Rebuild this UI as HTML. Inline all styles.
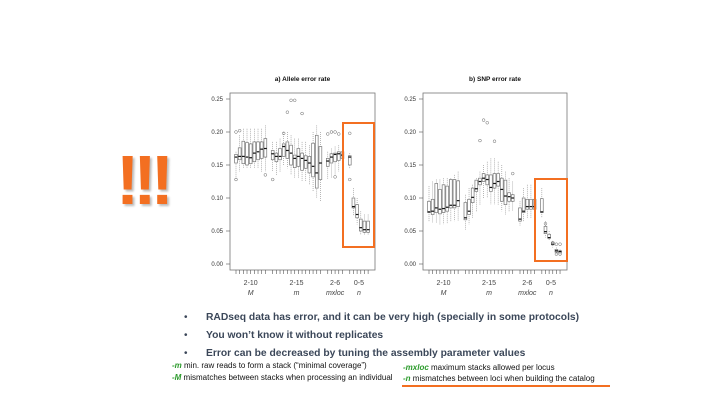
<!DOCTYPE html>
<html><head><meta charset="utf-8"><style>
body{margin:0;width:720px;height:405px;background:#fff;overflow:hidden;font-family:"Liberation Sans",sans-serif;position:relative}
.b{position:absolute;left:206px;font-size:10.3px;font-weight:bold;color:#3b4759;white-space:nowrap}
.d{position:absolute;left:184px;font-size:10px;color:#3b4759}
.n{position:absolute;font-size:8px;color:#111;white-space:nowrap}
.g{color:#2a9a2a;font-weight:bold;font-style:italic}
</style></head><body>
<div style="position:absolute;left:116px;top:140px;font-size:70px;font-weight:bold;color:#f36f21;text-shadow:2px 2px 2px #bbb;letter-spacing:-6px">!!!</div>
<svg id="c" width="720" height="405" style="position:absolute;left:0;top:0"></svg>
<div class="d" style="top:312px">•</div>
<div class="b" style="top:312px">RADseq data has error, and it can be very high (specially in some protocols)</div>
<div class="d" style="top:330px">•</div>
<div class="b" style="top:330px">You won’t know it without replicates</div>
<div class="d" style="top:348px">•</div>
<div class="b" style="top:348px">Error can be decreased by tuning the assembly parameter values</div>
<div class="n" style="left:172px;top:361px"><span class="g">-m</span> min. raw reads to form a stack  (“minimal coverage”)</div>
<div class="n" style="left:172px;top:373px"><span class="g">-M</span> mismatches between stacks when processing an individual</div>
<div class="n" style="left:403px;top:363px"><span class="g">-mxloc</span> maximum stacks allowed per locus</div>
<div class="n" style="left:403px;top:374px"><span class="g">-n</span> mismatches between loci when building the catalog</div>
<div style="position:absolute;left:402px;top:385px;width:208px;height:1.5px;background:#f36f21"></div>
<script>
const ticks=[0,0.05,0.10,0.15,0.20,0.25];
const groups=["2-10","2-15","2-6","0-5"];
const groupVars=["M","m","mxloc","n"];
const slots=[0,1,2,3,4,5,6,7,8,10,11,12,13,14,15,16,17,18,19,20,21,22,23,25,26,27,28,29,31,32,33,34,35,36];
const aMed=[.162,.163,.163,.162,.161,.168,.17,.174,.175,.167,.163,.163,.178,.172,.168,.16,.163,.16,.157,.153,.148,.138,.153,.156,.162,.166,.167,.165,.162,.087,.075,.055,.052,.052];
const aQ1=[.153,.158,.152,.15,.152,.155,.158,.16,.162,.158,.155,.158,.163,.16,.15,.146,.148,.142,.145,.138,.132,.115,.128,.148,.153,.155,.157,.16,.15,.085,.07,.05,.048,.048];
const aQ3=[.166,.176,.186,.184,.182,.185,.185,.185,.19,.172,.168,.175,.182,.185,.18,.165,.175,.168,.164,.163,.183,.195,.178,.16,.167,.168,.17,.17,.164,.1,.09,.068,.065,.065];
const aLo=[.128,.14,.145,.145,.145,.145,.145,.14,.14,.14,.135,.14,.15,.145,.135,.13,.13,.125,.125,.12,.11,.1,.095,.128,.13,.135,.14,.14,.145,.073,.06,.045,.044,.044];
const aHi=[.17,.195,.205,.205,.205,.205,.205,.205,.21,.185,.185,.19,.2,.2,.195,.19,.19,.185,.185,.18,.2,.21,.2,.17,.175,.178,.18,.18,.168,.115,.1,.08,.075,.075];
const aOut=[[0,.2],[1,.202],[0,.128],[8,.135],[13,.198],[10,.128],[15,.248],[16,.248],[14,.23],[18,.228],[25,.197],[26,.2],[27,.2],[28,.197],[27,.132],[31,.198],[31,.128]];
const bMed=[.079,.08,.085,.083,.084,.086,.089,.089,.096,.07,.08,.101,.114,.125,.13,.128,.116,.122,.125,.113,.103,.102,.1,.068,.08,.087,.087,.087,.079,.049,.04,.03,.02,.019];
const bQ1=[.078,.075,.078,.076,.078,.08,.085,.085,.087,.067,.075,.093,.11,.12,.125,.12,.11,.115,.118,.095,.09,.095,.095,.065,.078,.083,.083,.083,.078,.046,.039,.029,.018,.017];
const bQ3=[.095,.098,.122,.113,.12,.118,.128,.128,.126,.093,.098,.115,.127,.13,.137,.135,.135,.137,.137,.13,.127,.108,.105,.085,.1,.098,.098,.098,.099,.057,.045,.033,.022,.02];
const bLo=[.065,.063,.062,.06,.06,.062,.065,.065,.066,.052,.06,.07,.08,.09,.1,.1,.09,.09,.09,.08,.075,.08,.08,.058,.065,.07,.07,.07,.07,.04,.035,.025,.015,.014];
const bHi=[.118,.125,.128,.128,.13,.13,.13,.135,.14,.105,.115,.12,.13,.14,.15,.155,.16,.16,.155,.15,.14,.13,.125,.095,.115,.12,.12,.12,.115,.065,.05,.035,.025,.022];
const bOut=[[14,.187],[15,.218],[16,.214],[18,.186],[23,.137],[32,.061],[34,.032],[35,.03],[36,.03],[35,.015],[36,.015]];
const svg=document.getElementById('c');const NS="http://www.w3.org/2000/svg";
function mk(t,a,p){const e=document.createElementNS(NS,t);for(const k in a)e.setAttribute(k,a[k]);(p||svg).appendChild(e);return e;}
function chart(cfg){
 const g=mk('g',{});
 
 
 const y=v=>264-v*660, x=s=>cfg.x0+s*cfg.dx;
 const t=mk('text',{x:(cfg.L+cfg.R)/2,y:81,'font-size':6.5,'font-weight':'bold','text-anchor':'middle',fill:'#111'},g);t.textContent=cfg.title;
 
 
 const fr=mk('rect',{x:cfg.L,y:93,width:cfg.R-cfg.L,height:177,fill:'none',stroke:'#777','stroke-width':0.8},g);
 
 
 ticks.forEach(v=>{mk('line',{x1:cfg.L-4,x2:cfg.L,y1:y(v),y2:y(v),stroke:'#555','stroke-width':.6},g);
  const l=mk('text',{x:cfg.L-7,y:y(v)+2,'font-size':6,'text-anchor':'end',fill:'#333'},g);l.textContent=v.toFixed(2);
  
  });
 slots.forEach((s,i)=>{const cx=x(s),w=2.8;
  mk('line',{x1:cx,x2:cx,y1:270,y2:274,stroke:'#555','stroke-width':.6},g);
  mk('line',{x1:cx,x2:cx,y1:y(cfg.hi[i]),y2:y(cfg.lo[i]),stroke:'#888','stroke-width':.6,'stroke-dasharray':'1,1'},g);
  const r=mk('rect',{x:cx-w/2,y:y(cfg.q3[i]),width:w,height:Math.max(1,y(cfg.q1[i])-y(cfg.q3[i])),fill:'#fff',stroke:'#777','stroke-width':.7},g);
  
  
  mk('line',{x1:cx-w/2,x2:cx+w/2,y1:y(cfg.med[i]),y2:y(cfg.med[i]),stroke:'#111','stroke-width':1.2},g);});
 cfg.out.forEach(o=>{const c=mk('circle',{cx:x(o[0]),cy:y(o[1]),r:1.4,fill:'none',stroke:'#666','stroke-width':.5},g);
  
  });
 const cen=[4,16.5,27,33.5];
 groups.forEach((gr,i)=>{const a=mk('text',{x:x(cen[i]),y:285,'font-size':7,'text-anchor':'middle',fill:'#444'},g);a.textContent=gr;
  
  
  const b=mk('text',{x:x(cen[i]),y:295,'font-size':7,'font-style':'italic','text-anchor':'middle',fill:'#444'},g);b.textContent=groupVars[i];
  
  });
 const h=mk('rect',{x:cfg.hl[0],y:cfg.hl[1],width:cfg.hl[2],height:cfg.hl[3],fill:'none',stroke:'#f36f21','stroke-width':2},g);
 
 
}
chart({name:'allele-error-chart',title:'a) Allele error rate',L:230,R:375,x0:236,dx:3.67,med:aMed,q1:aQ1,q3:aQ3,lo:aLo,hi:aHi,out:aOut,hl:[343,123,31,124]});
chart({name:'snp-error-chart',title:'b) SNP error rate',L:423,R:567,x0:429,dx:3.64,med:bMed,q1:bQ1,q3:bQ3,lo:bLo,hi:bHi,out:bOut,hl:[535,179,32,82]});
</script>
</body></html>
